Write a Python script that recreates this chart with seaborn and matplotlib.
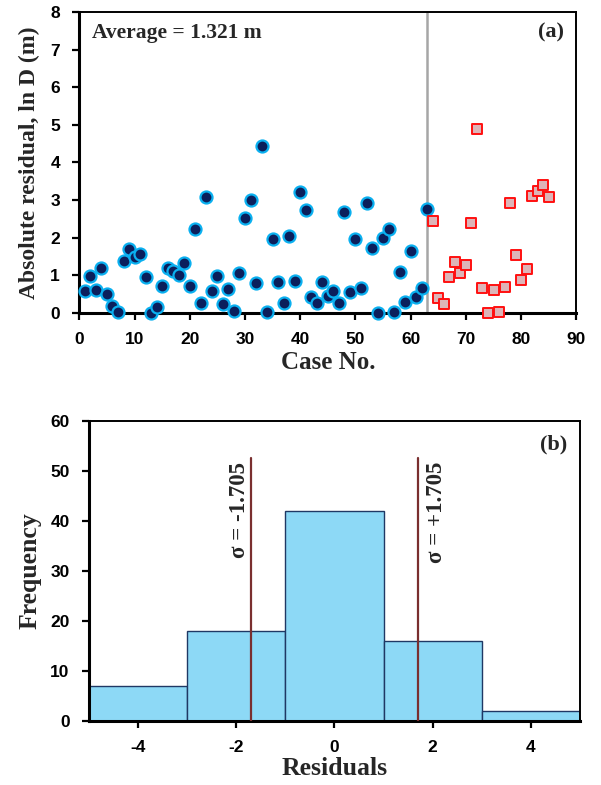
import numpy as np
import matplotlib
matplotlib.use("Agg")
import matplotlib.pyplot as plt
import seaborn as sns

# ---- data ----
# (a) absolute residuals, cases 1-63 (circles) and 64-85 (squares)
resid_train = [0.58, 0.98, 0.60, 1.18, 0.51, 0.19, 0.03, 1.38, 1.69, 1.49,
               1.55, 0.96, 0.00, 0.16, 0.72, 1.18, 1.12, 1.00, 1.31, 0.72,
               2.24, 0.27, 3.07, 0.58, 0.98, 0.23, 0.63, 0.05, 1.06, 2.53,
               3.01, 0.78, 4.44, 0.03, 1.95, 0.81, 0.27, 2.04, 0.84, 3.22,
               2.73, 0.43, 0.27, 0.81, 0.45, 0.58, 0.27, 2.67, 0.54, 1.95,
               0.67, 2.91, 1.73, 0.00, 2.00, 2.22, 0.03, 1.09, 0.29, 1.65,
               0.43, 0.67, 2.75]
resid_test = [2.44, 0.38, 0.23, 0.96, 1.36, 1.06, 1.27, 2.38, 4.88, 0.67,
              0.00, 0.60, 0.01, 0.69, 2.93, 1.53, 0.87, 1.15, 3.10, 3.24,
              3.40, 3.07]
case_train = list(range(1, len(resid_train) + 1))
case_test = list(range(len(resid_train) + 1, len(resid_train) + len(resid_test) + 1))
split_case = 63
average_txt = "Average = 1.321 m"

# (b) residual histogram
bin_edges = [-5, -3, -1, 1, 3, 5]
bin_centers = [-4, -2, 0, 2, 4]
bin_counts = [7, 18, 42, 16, 2]
sigma = 1.705

sns.set_style("ticks")
plt.rcParams.update({
    "font.family": ["Liberation Sans", "DejaVu Sans"],
    "font.weight": "bold",
    "axes.unicode_minus": False,
    "xtick.labelsize": 12.5,
    "ytick.labelsize": 12.5,
    "xtick.major.size": 5,
    "ytick.major.size": 5,
    "xtick.major.width": 1.6,
    "ytick.major.width": 1.6,
    "xtick.color": "black",
    "ytick.color": "black",
    "axes.edgecolor": "black",
})
serif = dict(family="Liberation Serif", weight="bold")

fig = plt.figure(figsize=(6.01, 7.85), dpi=100)
ax1 = fig.add_axes([0.132, 0.6017, 0.827, 0.3826])
ax2 = fig.add_axes([0.148, 0.0819, 0.817, 0.3822])

# ---- (a) scatter ----
ax1.axvline(split_case, color="#A6A6A6", linewidth=1.8, zorder=1)
sns.scatterplot(x=case_train, y=resid_train, ax=ax1, marker="o", s=75,
                color="#0B1F5C", edgecolor="#0AB0F0", linewidth=1.6, zorder=3,
                clip_on=False)
sns.scatterplot(x=case_test, y=resid_test, ax=ax1, marker="s", s=45,
                color="#DDB5B8", edgecolor="#FF1010", linewidth=1.4, zorder=3,
                clip_on=False)
ax1.set_xlim(0, 90)
ax1.set_ylim(0, 8)
ax1.set_xticks(range(0, 91, 10))
ax1.set_yticks(range(0, 9))
ax1.set_xlabel("Case No.", fontsize=18, labelpad=3, **serif)
ax1.set_ylabel("Absolute residual, ln D (m)", fontsize=17, labelpad=7, **serif)
ax1.text(0.025, 0.965, average_txt, transform=ax1.transAxes, ha="left", va="top",
         fontsize=15.5, **serif)
ax1.text(0.975, 0.965, "(a)", transform=ax1.transAxes, ha="right", va="top",
         fontsize=16, **serif)

# ---- (b) histogram ----
sns.histplot(x=bin_centers, weights=bin_counts, bins=bin_edges, ax=ax2,
             color="#8DD9F6", edgecolor="#1F3864", linewidth=1.0, alpha=1.0)
for s_val, lbl, dx in [(-sigma, "σ = -1.705", -0.23), (sigma, "σ = +1.705", 0.37)]:
    ax2.plot([s_val, s_val], [0, 52.5], color="#7A2F2F", linewidth=1.6, zorder=4)
    ax2.text(s_val + dx, 51.8, lbl, rotation=90, ha="center", va="top",
             fontsize=16.5, **serif)
ax2.set_xlim(-5, 5)
ax2.set_ylim(0, 60)
ax2.set_xticks([-4, -2, 0, 2, 4])
ax2.set_yticks(range(0, 61, 10))
ax2.set_xlabel("Residuals", fontsize=18.5, labelpad=1, **serif)
ax2.set_ylabel("Frequency", fontsize=18.5, labelpad=6, **serif)
ax2.text(0.975, 0.955, "(b)", transform=ax2.transAxes, ha="right", va="top",
         fontsize=16, **serif)

for ax in (ax1, ax2):
    for side in ("top", "right"):
        ax.spines[side].set_visible(True)
        ax.spines[side].set_linewidth(1.4)
    for side in ("left", "bottom"):
        ax.spines[side].set_linewidth(2.2)
    ax.tick_params(axis="x", direction="out", pad=9)
    ax.tick_params(axis="y", direction="out", pad=9)
    for t in ax.get_xticklabels() + ax.get_yticklabels():
        t.set_fontweight("bold")

fig.savefig("out.png", dpi=100)
